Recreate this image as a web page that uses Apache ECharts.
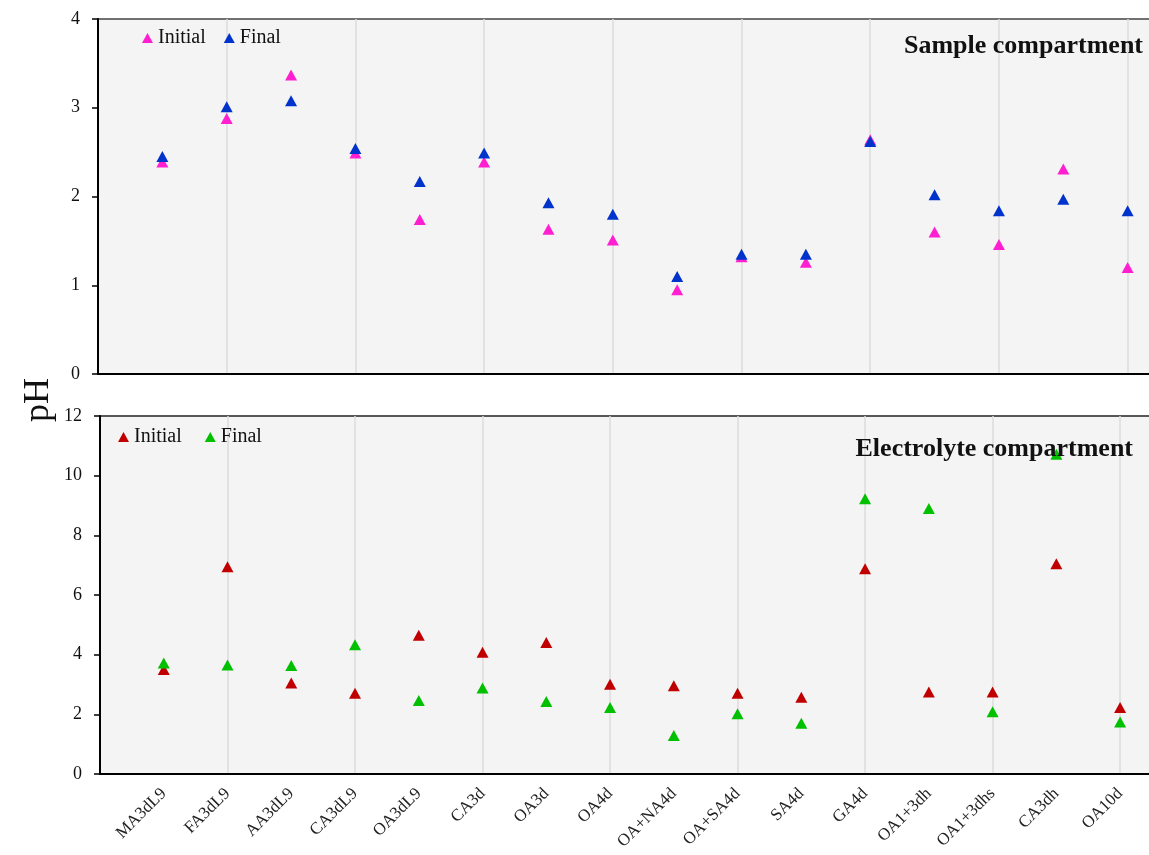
<!DOCTYPE html>
<html>
<head>
<meta charset="utf-8">
<script src="https://cdn.jsdelivr.net/npm/echarts@6/dist/echarts.min.js"></script>
<style>
  html, body { margin: 0; padding: 0; background: #fff; overflow: hidden; }
  /* the figure is cropped on the right: the plot area runs past the window edge */
  #chart { width: 1192px; height: 855px; }
</style>
</head>
<body>
<div id="chart"></div>
<script>
const categories = ['MA3dL9', 'FA3dL9', 'AA3dL9', 'CA3dL9', 'OA3dL9', 'CA3d', 'OA3d', 'OA4d',
  'OA+NA4d', 'OA+SA4d', 'SA4d', 'GA4d', 'OA1+3dh', 'OA1+3dhs', 'CA3dh', 'OA10d']

// sample compartment
const sampleInitial = [2.39, 2.88, 3.37, 2.49, 1.74, 2.39, 1.63, 1.51, 0.95, 1.32, 1.26, 2.64, 1.60, 1.46, 2.31, 1.20]
const sampleFinal = [2.45, 3.01, 3.08, 2.54, 2.17, 2.49, 1.93, 1.80, 1.10, 1.35, 1.35, 2.62, 2.02, 1.84, 1.97, 1.84]

// electrolyte compartment
const electrolyteInitial = [3.50, 6.95, 3.05, 2.71, 4.65, 4.08, 4.41, 3.01, 2.96, 2.71, 2.57, 6.88, 2.75, 2.75, 7.05, 2.23]
const electrolyteFinal = [3.72, 3.65, 3.64, 4.33, 2.46, 2.88, 2.43, 2.23, 1.29, 2.02, 1.70, 9.23, 8.90, 2.09, 10.72, 1.74]

const serif = "'Liberation Serif', 'Times New Roman', serif"

const chart = echarts.init(document.getElementById('chart'))

// pad one empty slot on each side so the first point sits a full step from the axis
const axisCats = ['', ...categories, ' ']
const toPoints = vals => vals.map((v, i) => [i + 1, v])

const xAxisBase = (gridIndex, showLabels) => ({
  type: 'category',
  gridIndex,
  data: axisCats,
  boundaryGap: false,
  axisLine: { show: true, lineStyle: { color: '#000', width: 2 } },
  axisTick: { show: false },
  axisLabel: {
    show: showLabels,
    interval: 0,
    rotate: 45,
    margin: 17,
    fontFamily: serif,
    fontSize: 17,
    color: '#222'
  },
  splitLine: {
    show: true,
    interval: (index) => index > 0 && index % 2 === 0,
    lineStyle: { color: '#dcdcdc', width: 1.5 }
  }
})

const yAxisBase = (gridIndex, max, interval) => ({
  type: 'value',
  gridIndex,
  min: 0,
  max,
  interval,
  axisLine: { show: true, lineStyle: { color: '#000', width: 2 } },
  axisTick: { show: true, length: 6, lineStyle: { color: '#000', width: 1.5 } },
  axisLabel: { fontFamily: serif, fontSize: 18, color: '#111', margin: 18 },
  splitLine: { show: false }
})

const scatter = (name, data, color, axisIndex) => ({
  name,
  type: 'scatter',
  xAxisIndex: axisIndex,
  yAxisIndex: axisIndex,
  symbol: 'triangle',
  symbolSize: [12, 11],
  itemStyle: { color, opacity: 1 },
  data: toPoints(data)
})

const legendBase = (left, top, names) => ({
  left,
  top,
  icon: 'triangle',
  itemWidth: 11,
  itemHeight: 10,
  itemGap: 18,
  data: names,
  textStyle: { fontFamily: serif, fontSize: 20, color: '#111', padding: [0, 0, 0, 0] }
})

const option = {
  backgroundColor: '#fff',
  animation: false,
  grid: [
    { left: 98, right: 0, top: 19, height: 355, show: true, backgroundColor: '#f4f4f4', borderColor: '#444', borderWidth: 1.5 },
    { left: 100, right: 0, top: 416, height: 358, show: true, backgroundColor: '#f4f4f4', borderColor: '#222', borderWidth: 1.5 }
  ],
  xAxis: [xAxisBase(0, false), xAxisBase(1, true)],
  yAxis: [yAxisBase(0, 4, 1), yAxisBase(1, 12, 2)],
  title: [
    {
      text: 'Sample compartment',
      right: 49,
      top: 33,
      padding: 0,
      textStyle: { fontFamily: serif, fontSize: 26, fontWeight: 'bold', color: '#111' }
    },
    {
      text: 'Electrolyte compartment',
      right: 59,
      top: 436,
      padding: 0,
      textStyle: { fontFamily: serif, fontSize: 26, fontWeight: 'bold', color: '#111' }
    }
  ],
  legend: [
    legendBase(137, 23, ['Initial', 'Final']),
    legendBase(113, 422, ['Initial ', 'Final '])
  ],
  graphic: [
    {
      type: 'text',
      x: 21,
      y: 422,
      rotation: Math.PI / 2,
      style: { text: 'pH', font: '36px ' + serif, fill: '#111' }
    }
  ],
  series: [
    scatter('Initial', sampleInitial, '#ff1fd0', 0),
    scatter('Final', sampleFinal, '#0033cc', 0),
    scatter('Initial ', electrolyteInitial, '#c00000', 1),
    scatter('Final ', electrolyteFinal, '#00c000', 1)
  ]
}

chart.setOption(option)
window.addEventListener('resize', () => chart.resize())
</script>
</body>
</html>
